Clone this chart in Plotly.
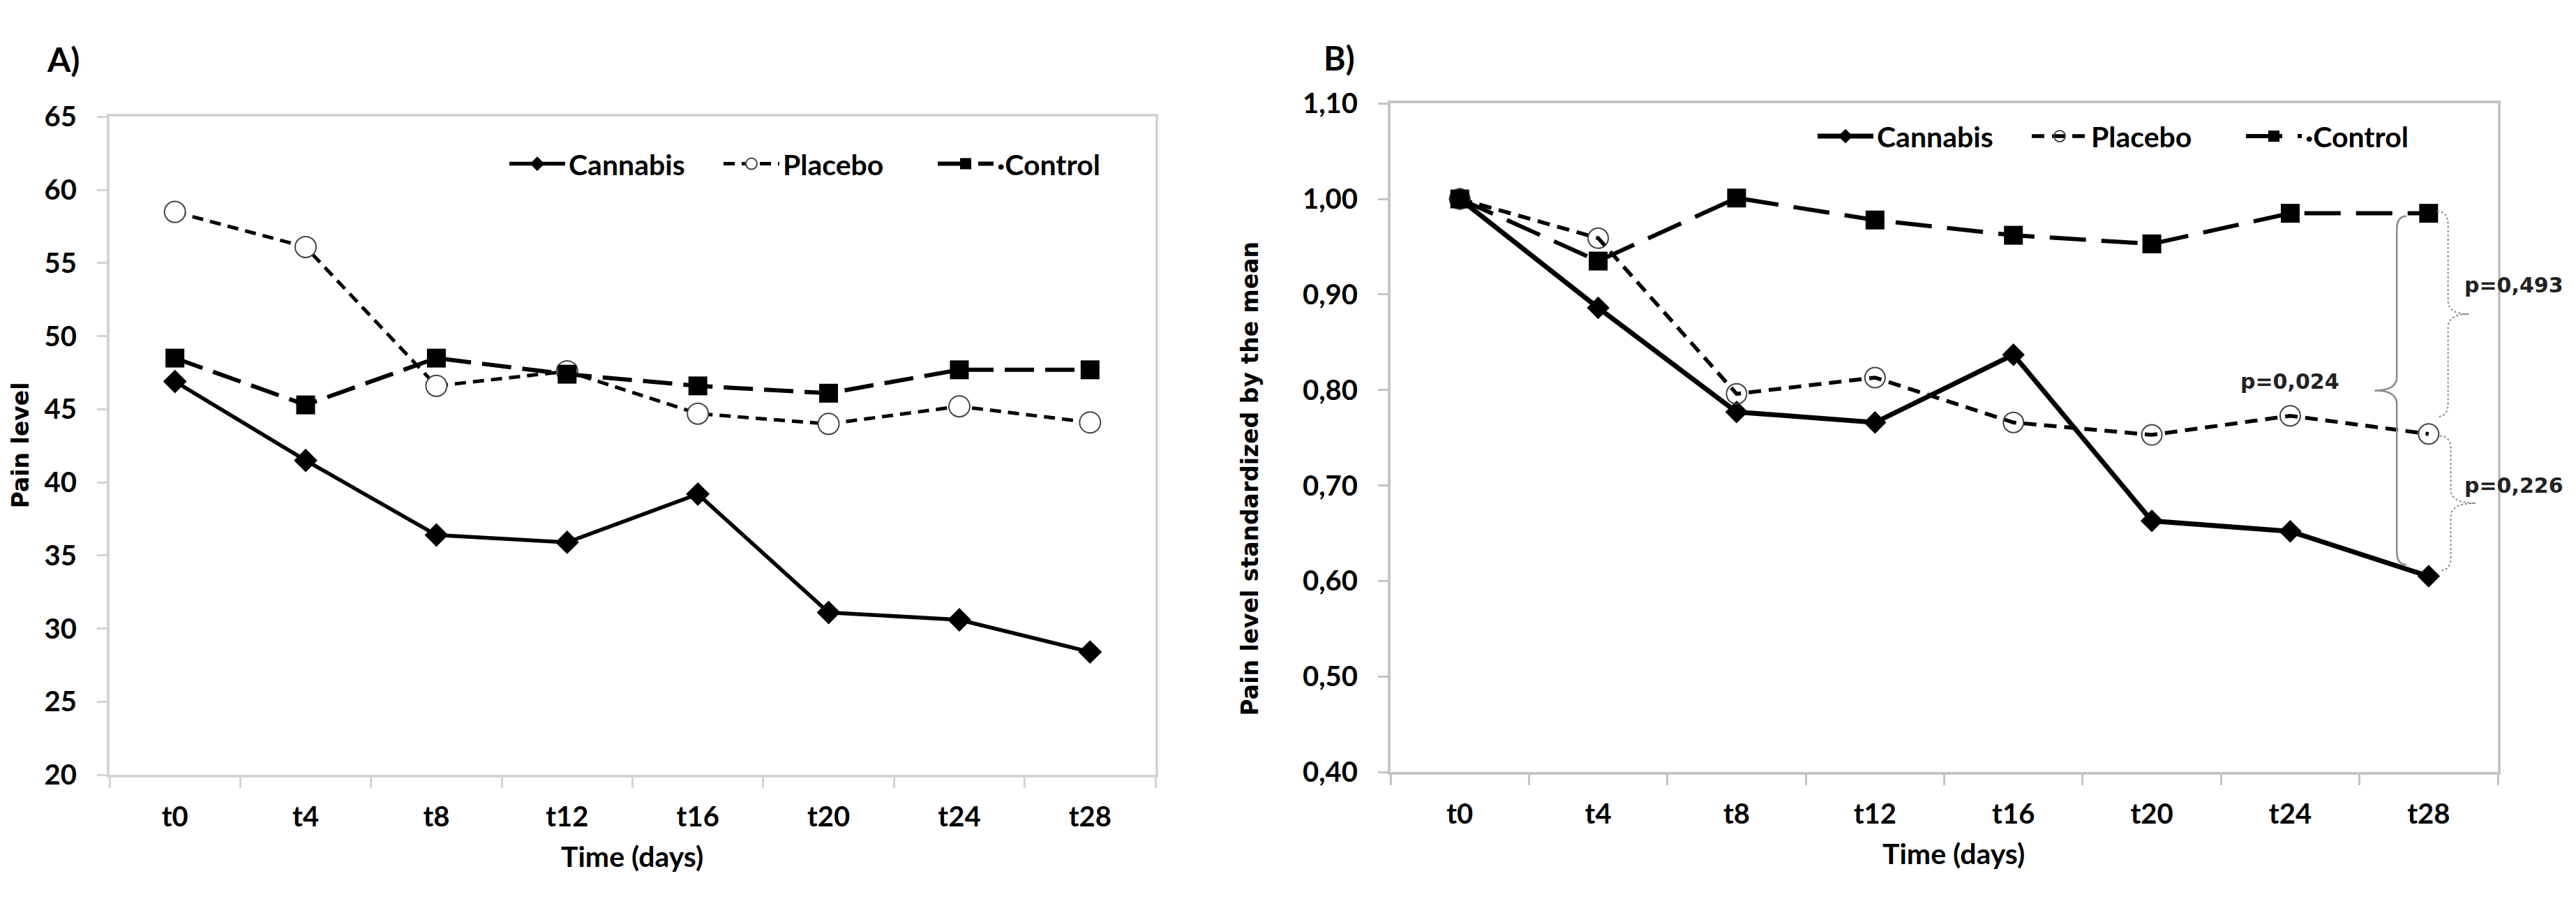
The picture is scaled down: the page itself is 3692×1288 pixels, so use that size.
import plotly.graph_objects as go

# ---------------- data ----------------
times = ["t0", "t4", "t8", "t12", "t16", "t20", "t24", "t28"]
series_names = ["Cannabis", "Placebo", "·Control"]

cannabis_a = [46.9, 41.5, 36.4, 35.9, 39.2, 31.1, 30.6, 28.4]
placebo_a = [58.5, 56.1, 46.6, 47.6, 44.7, 44.0, 45.2, 44.1]
control_a = [48.5, 45.3, 48.5, 47.4, 46.6, 46.1, 47.7, 47.7]

cannabis_b = [1.000, 0.886, 0.777, 0.766, 0.837, 0.663, 0.652, 0.605]
placebo_b = [1.000, 0.959, 0.796, 0.813, 0.766, 0.753, 0.773, 0.754]
control_b = [1.000, 0.935, 1.001, 0.978, 0.962, 0.953, 0.985, 0.985]

p_labels = ["p=0,024", "p=0,493", "p=0,226"]

y_title_a = "Pain level"
y_title_b = "Pain level standardized by the mean"
x_title = "Time (days)"

# ---------------- styling ----------------
W, H = 3692, 1288
TICKFONT = "Lato, 'Open Sans', sans-serif"
WIDEFONT = "'DejaVu Sans', Verdana, sans-serif"
AXIS_COLOR_A = "#d4d4d4"
AXIS_COLOR_B = "#c4c4c4"


def px(x):
    return x / W


def py(y):
    return 1 - y / H


fig = go.Figure()

# Panel A traces
fig.add_trace(go.Scatter(
    x=times, y=cannabis_a, name=series_names[0], mode="lines+markers",
    line=dict(color="black", width=5.5),
    marker=dict(symbol="diamond", size=26, color="black"),
    xaxis="x", yaxis="y", legend="legend"))
fig.add_trace(go.Scatter(
    x=times, y=placebo_a, name=series_names[1], mode="lines+markers",
    line=dict(color="black", width=5, dash="16px,10px"),
    marker=dict(symbol="circle", size=30, color="white",
                line=dict(color="#444", width=2)),
    xaxis="x", yaxis="y", legend="legend"))
fig.add_trace(go.Scatter(
    x=times, y=control_a, name=series_names[2], mode="lines+markers",
    line=dict(color="black", width=6, dash="42px,16px"),
    marker=dict(symbol="square", size=27, color="black"),
    xaxis="x", yaxis="y", legend="legend"))

# Panel B traces
fig.add_trace(go.Scatter(
    x=times, y=cannabis_b, name=series_names[0], mode="lines+markers",
    line=dict(color="black", width=7),
    marker=dict(symbol="diamond", size=25, color="black"),
    xaxis="x2", yaxis="y2", legend="legend2"))
fig.add_trace(go.Scatter(
    x=times, y=placebo_b, name=series_names[1], mode="lines+markers",
    line=dict(color="black", width=5.5, dash="18px,11px"),
    marker=dict(symbol="circle", size=29, color="rgba(255,255,255,0)",
                line=dict(color="#444", width=2)),
    xaxis="x2", yaxis="y2", legend="legend2"))
fig.add_trace(go.Scatter(
    x=times, y=control_b, name=series_names[2], mode="lines+markers",
    line=dict(color="black", width=6, dash="52px,22px"),
    marker=dict(symbol="square", size=27, color="black"),
    xaxis="x2", yaxis="y2", legend="legend2"))


def brace_path(x0, ytop, ybot, tip, curl, h):
    """Curly brace: vertical at x0, ends curl by `curl` in x, middle tip by `tip`."""
    ym = (ytop + ybot) / 2
    return (f"M {x0 + curl},{ytop} Q {x0},{ytop} {x0},{ytop - h} "
            f"L {x0},{ym + h} Q {x0},{ym} {x0 + tip},{ym} "
            f"Q {x0},{ym} {x0},{ym - h} "
            f"L {x0},{ybot + h} Q {x0},{ybot} {x0 + curl},{ybot}")


last = len(times) - 1
shapes = [
    dict(type="path", xref="x2", yref="y2",
         path=brace_path(last - 0.23, control_b[last] - 0.003, cannabis_b[last] + 0.012,
                         -0.16, 0.07, 0.014),
         line=dict(color="#8a8a8a", width=2.5)),
    dict(type="path", xref="x2", yref="y2",
         path=brace_path(last + 0.14, control_b[last] + 0.002, placebo_b[last] + 0.018,
                         0.15, -0.08, 0.014),
         line=dict(color="#8a8a8a", width=2, dash="dot")),
    dict(type="path", xref="x2", yref="y2",
         path=brace_path(last + 0.16, placebo_b[last] - 0.002, cannabis_b[last] + 0.006,
                         0.18, -0.08, 0.014),
         line=dict(color="#8a8a8a", width=2, dash="dot")),
]


def paper_text(text, x, y, font, angle=0):
    return dict(text=text, x=px(x), y=py(y), xref="paper", yref="paper",
                xanchor="center", yanchor="middle", textangle=angle,
                showarrow=False, font=font)


label_font = dict(family=TICKFONT, size=48, color="black", weight="bold")
xt_font = dict(family=TICKFONT, size=41, color="black", weight="bold")
yt_font = dict(family=WIDEFONT, size=33, color="black", weight="bold")
p_font = dict(family=WIDEFONT, size=30, color="#222", weight="bold")

annotations = [
    paper_text("A)", 91, 62, label_font),
    paper_text("B)", 1919, 60, label_font),
    paper_text(x_title, 906, 1248, xt_font),
    paper_text(x_title, 2800, 1244, xt_font),
    paper_text(y_title_a, 29, 637, yt_font, -90),
    paper_text(y_title_b, 1791, 686, yt_font, -90),
    dict(text=p_labels[0], x=last - 1, y=0.809, xref="x2", yref="y2", showarrow=False,
         xanchor="center", yanchor="middle", font=p_font),
    dict(text=p_labels[1], x=last + 0.25, y=0.910, xref="x2", yref="y2", showarrow=False,
         xanchor="left", yanchor="middle", font=p_font),
    dict(text=p_labels[2], x=last + 0.25, y=0.700, xref="x2", yref="y2", showarrow=False,
         xanchor="left", yanchor="middle", font=p_font),
]

tickfont = dict(family=TICKFONT, size=40, color="black", weight="bold")


def xaxis(domain, anchor, color):
    return dict(domain=domain, anchor=anchor, type="category", tickson="boundaries",
                range=[-0.5, len(times) - 0.5], showline=True, linecolor=color, linewidth=4,
                mirror=True, ticks="outside", ticklen=15, tickwidth=3, tickcolor=color,
                showgrid=False, zeroline=False, tickfont=tickfont, ticklabelstandoff=22,
                fixedrange=True)


def yaxis(domain, anchor, rng, dtick, fmt, color):
    return dict(domain=domain, anchor=anchor, range=rng, dtick=dtick, tickformat=fmt,
                showline=True, linecolor=color, linewidth=4, mirror=True,
                ticks="outside", ticklen=14, tickwidth=3, tickcolor=color,
                showgrid=False, zeroline=False, tickfont=tickfont, ticklabelstandoff=21,
                fixedrange=True)


legend_font = dict(family=TICKFONT, size=41, color="black", weight="bold")
legend_common = dict(orientation="h", xanchor="left", yanchor="middle",
                     font=legend_font, bgcolor="rgba(0,0,0,0)", itemwidth=80,
                     entrywidth=212, tracegroupgap=0)

fig.update_layout(
    width=W, height=H, margin=dict(l=0, r=0, t=0, b=0),
    paper_bgcolor="white", plot_bgcolor="white", separators=",.",
    xaxis=xaxis([px(157), px(1656)], "y", AXIS_COLOR_A),
    yaxis=yaxis([py(1127), py(148)], "x", [20, 65], 5, "d", AXIS_COLOR_A),
    xaxis2=xaxis([px(1993), px(3580)], "y2", AXIS_COLOR_B),
    yaxis2=yaxis([py(1123), py(128)], "x2", [0.40, 1.10], 0.1, ".2f", AXIS_COLOR_B),
    legend=dict(x=px(725), y=py(218), **legend_common),
    legend2=dict(x=px(2600), y=py(177), **legend_common),
    shapes=shapes, annotations=annotations, showlegend=True,
)

fig.write_html("out.html", config={"displayModeBar": False},
               post_script="document.body.style.margin='0';")
